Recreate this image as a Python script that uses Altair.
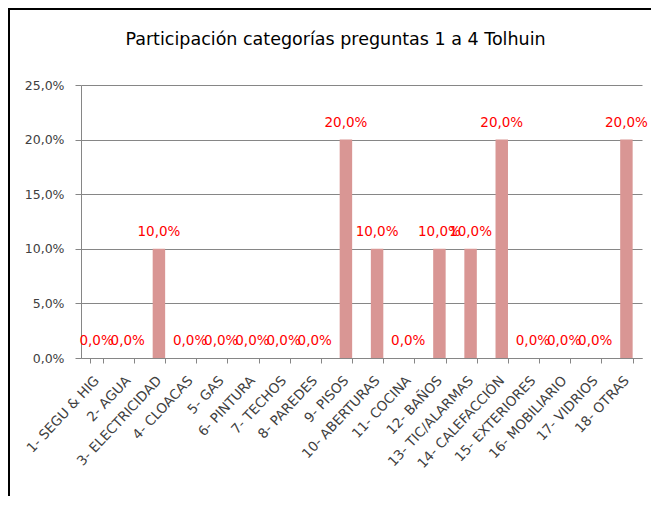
import altair as alt
import pandas as pd

categories = ["1- SEGU & HIG", "2- AGUA", "3- ELECTRICIDAD", "4- CLOACAS", "5- GAS",
              "6- PINTURA", "7- TECHOS", "8- PAREDES", "9- PISOS", "10- ABERTURAS",
              "11- COCINA", "12- BAÑOS", "13- TIC/ALARMAS", "14- CALEFACCIÓN",
              "15- EXTERIORES", "16- MOBILIARIO", "17- VIDRIOS", "18- OTRAS"]
values = [0.0, 0.0, 0.10, 0.0, 0.0, 0.0, 0.0, 0.0, 0.20, 0.10,
          0.0, 0.10, 0.10, 0.20, 0.0, 0.0, 0.0, 0.20]
y_ticks = [0.0, 0.05, 0.10, 0.15, 0.20, 0.25]
title_text = "Participación categorías preguntas 1 a 4 Tolhuin"

df = pd.DataFrame({"cat": categories, "val": values})
df["lbl"] = df["val"].map(lambda v: f"{v*100:.1f}%".replace(".", ","))

FONT = "DejaVu Sans"
W, H = 561, 273

x_enc = alt.X("cat:N", sort=categories,
              scale=alt.Scale(paddingInner=0.6, paddingOuter=0.3),
              axis=alt.Axis(title=None, labelAngle=-47, labelAlign="right",
                            labelBaseline="middle", labelFontSize=13.5,
                            labelColor="#404040", labelFont=FONT, tickBand="extent",
                            tickSize=5, tickColor="#868686", domainColor="#868686",
                            labelPadding=15, labelOverlap=False))
y_scale = alt.Scale(domain=[0, 0.25], nice=False)

bars = alt.Chart(df).mark_bar(color="#D99694").encode(
    x=x_enc,
    y=alt.Y("val:Q", scale=y_scale,
            axis=alt.Axis(title=None, values=y_ticks,
                          labelExpr="replace(format(datum.value, '.1%'), '.', ',')",
                          labelFontSize=12.5, labelColor="#404040", labelFont=FONT,
                          tickSize=6, tickColor="#868686", domainColor="#868686",
                          gridColor="#868686", grid=True, labelPadding=11)),
)

labels = alt.Chart(df).mark_text(
    color="#FF0000", fontSize=13.5, font=FONT, baseline="alphabetic", dy=-13
).encode(x=alt.X("cat:N", sort=categories), y=alt.Y("val:Q", scale=y_scale), text="lbl:N")

title_df = pd.DataFrame({"t": [title_text]})
title = alt.Chart(title_df).mark_text(
    font=FONT, fontSize=17.5, color="#000000", align="center", baseline="middle"
).encode(x=alt.value(W / 2 - 26), y=alt.value(-45), text="t:N")

frame_top = alt.Chart(df).mark_rule(color="black", strokeWidth=2).encode(
    x=alt.value(-73), x2=alt.value(W + 20), y=alt.value(-76))
frame_left = alt.Chart(df).mark_rule(color="black", strokeWidth=2).encode(
    x=alt.value(-72), y=alt.value(-77), y2=alt.value(H + 200))

chart = alt.layer(bars, labels, title, frame_top, frame_left).properties(
    width=W, height=H,
    autosize=alt.AutoSizeParams(type="none"),
    padding={"left": 73, "top": 77, "right": 9, "bottom": 138},
).configure_view(stroke=None).configure_axis(gridWidth=1)

chart.save("out.html", embed_options={"renderer": "svg", "actions": False})
